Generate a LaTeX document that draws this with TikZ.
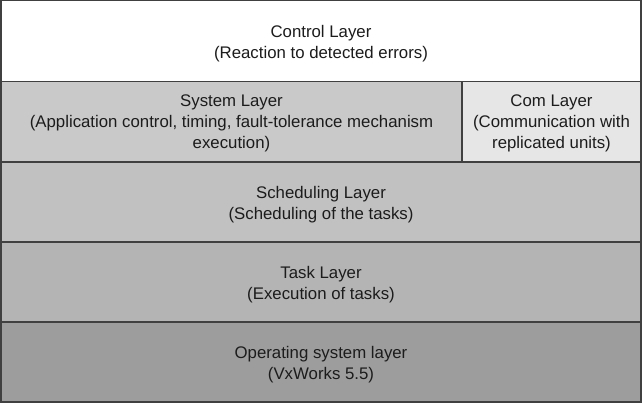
\documentclass[tikz,border=0pt]{standalone}
\usepackage{fontspec}
\setmainfont{Liberation Sans}
\definecolor{edge}{HTML}{404040}
\definecolor{sysfill}{HTML}{C9C9C9}
\definecolor{comfill}{HTML}{E6E6E6}
\definecolor{schedfill}{HTML}{C1C1C1}
\definecolor{taskfill}{HTML}{B4B4B4}
\definecolor{osfill}{HTML}{9D9D9D}
\definecolor{txt}{HTML}{1C1C1C}
\begin{document}
\begin{tikzpicture}[x=1pt,y=-1pt,
  layer/.style={draw=edge,line width=1.1pt,inner sep=0pt,outer sep=0pt},
  lbl/.style={inner sep=0pt,align=center,text=txt,font=\fontsize{16.8}{21}\selectfont},
]
\useasboundingbox (0,0) rectangle (642,404);
\node[layer,fill=white,minimum width=640pt,minimum height=80.5pt] (ctl) at (321,41) {};
\node[layer,fill=sysfill,minimum width=461pt,minimum height=80.5pt] (sys) at (231.5,121.5) {};
\node[layer,fill=comfill,minimum width=179pt,minimum height=80.5pt] (com) at (551.5,121.5) {};
\node[layer,fill=schedfill,minimum width=640pt,minimum height=80pt] (sch) at (321,202) {};
\node[layer,fill=taskfill,minimum width=640pt,minimum height=80pt] (tsk) at (321,282) {};
\node[layer,fill=osfill,minimum width=640pt,minimum height=80pt] (os) at (321,362) {};
\node[lbl] (ctlt) at ([yshift=-2.5pt]ctl.center) {Control Layer\\(Reaction to detected errors)};
\node[lbl] (syst) at ([yshift=-1.5pt]sys.center) {System Layer\\(Application control, timing, fault-tolerance mechanism\\execution)};
\node[lbl] (comt) at ([yshift=-1.5pt]com.center) {Com Layer\\(Communication with\\replicated units)};
\node[lbl] (scht) at ([yshift=-2.5pt]sch.center) {Scheduling Layer\\(Scheduling of the tasks)};
\node[lbl] (tskt) at ([yshift=-2.5pt]tsk.center) {Task Layer\\(Execution of tasks)};
\node[lbl] (ost) at ([yshift=-2.5pt]os.center) {Operating system layer\\(VxWorks 5.5)};
\end{tikzpicture}
\end{document}
